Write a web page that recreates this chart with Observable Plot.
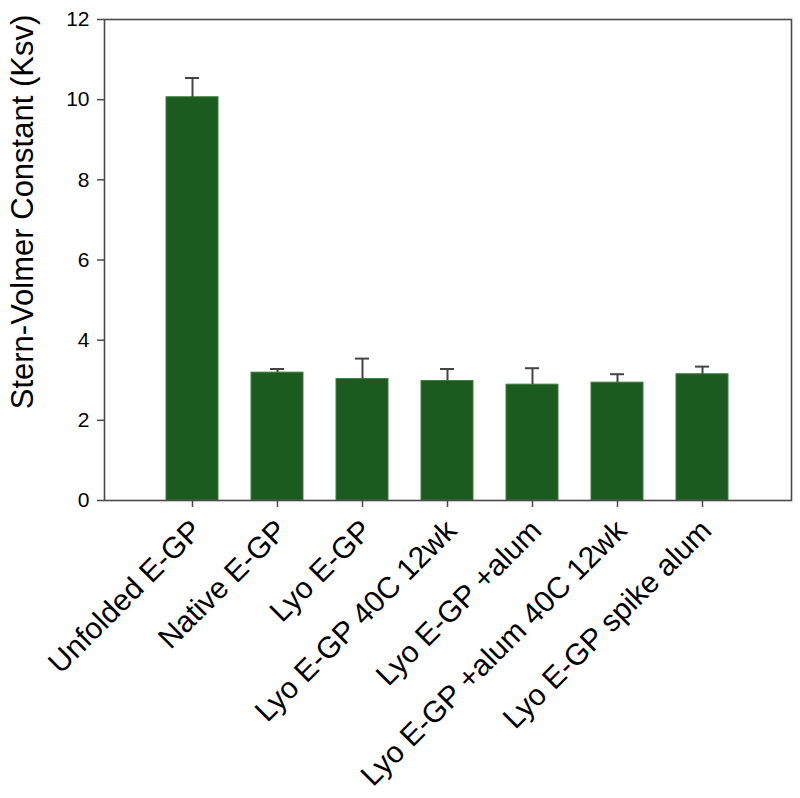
<!DOCTYPE html>
<html>
<head>
<meta charset="utf-8">
<script src="https://cdn.jsdelivr.net/npm/d3@7"></script>
<script src="https://cdn.jsdelivr.net/npm/@observablehq/plot@0.6"></script>
<style>
  html, body { margin: 0; padding: 0; background: #fff; }
  #chart { width: 800px; height: 798px; }
</style>
</head>
<body>
<div id="chart"></div>
<script>
const categories = [
  "Unfolded E-GP",
  "Native E-GP",
  "Lyo E-GP",
  "Lyo E-GP 40C 12wk",
  "Lyo E-GP +alum",
  "Lyo E-GP +alum 40C 12wk",
  "Lyo E-GP spike alum"
];
const means = [10.06, 3.19, 3.03, 2.98, 2.89, 2.94, 3.15];
const errors = [0.48, 0.09, 0.51, 0.30, 0.41, 0.21, 0.19];
const yTicks = [0, 2, 4, 6, 8, 10, 12];
const yLabel = "Stern-Volmer Constant (Ksv)";

const data = categories.map((c, i) => ({cat: c, mean: means[i], err: errors[i], top: means[i] + errors[i]}));

const font = "'Liberation Sans', Arial, Helvetica, sans-serif";
const barColor = "#1c5b20";
const axisColor = "#4a4a4a";

const chart = Plot.plot({
  width: 800,
  height: 798,
  marginLeft: 104,
  marginRight: 9,
  marginTop: 19,
  marginBottom: 298,
  style: {fontFamily: font, background: "#fff", color: "#000"},
  x: {type: "band", domain: categories, paddingInner: 0.383, paddingOuter: 0.69, align: 0.5},
  y: {domain: [0, 12]},
  marks: [
    Plot.barY(data, {x: "cat", y: "mean", fill: barColor, stroke: "#3f7d40", strokeWidth: 1}),
    Plot.ruleX(data, {x: "cat", y1: "mean", y2: "top", stroke: "#444", strokeWidth: 2}),
    Plot.tickY(data, {x: "cat", y: "top", stroke: "#444", strokeWidth: 2, insetLeft: 19, insetRight: 19}),
    Plot.frame({stroke: axisColor, strokeWidth: 1.6}),
    Plot.axisY({ticks: yTicks, tickSize: 7, tickFormat: () => "", stroke: axisColor, strokeWidth: 1.5,
      label: yLabel, labelAnchor: "center", labelArrow: "none", labelOffset: 82}),
    Plot.text(yTicks, {y: d => d, text: d => String(d), frameAnchor: "left", textAnchor: "end", dx: -15, fontSize: 21, fill: "#000"}),
    Plot.axisX({tickSize: 7, tickPadding: 18, tickRotate: -45, fontSize: 30, stroke: axisColor, strokeWidth: 1.5, label: null})
  ]
});

document.getElementById("chart").appendChild(chart);

chart.querySelectorAll('g[aria-label="x-axis tick label"]').forEach(g => {
  g.style.fontSize = "30px";
  g.setAttribute("transform", (g.getAttribute("transform") || "") + " translate(4,0)");
});

// y-axis label: size and placement as in the reference
const lab = chart.querySelector('g[aria-label="y-axis label"]');
if (lab) {
  lab.removeAttribute("transform");
  lab.querySelectorAll("text").forEach(t => {
    t.removeAttribute("x");
    t.removeAttribute("y");
    t.removeAttribute("dy");
    t.setAttribute("text-anchor", "middle");
    t.setAttribute("transform", "translate(33,212) rotate(-90)");
    t.style.fontSize = "31px";
  });
}
</script>
</body>
</html>
